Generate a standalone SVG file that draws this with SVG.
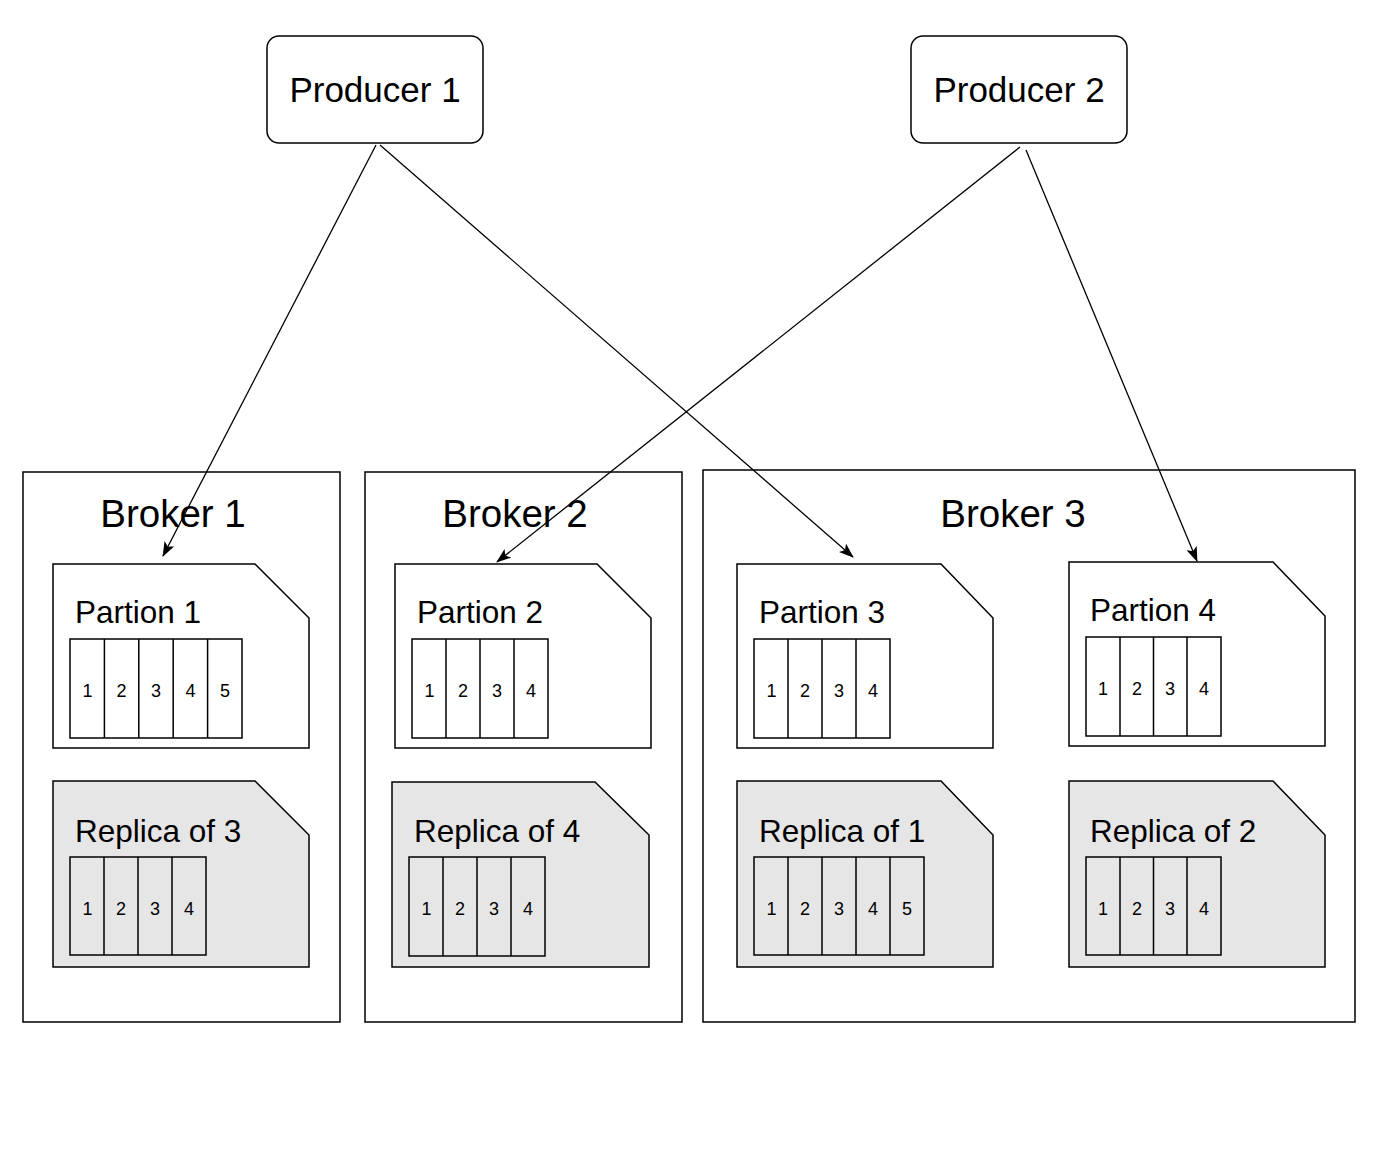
<svg xmlns="http://www.w3.org/2000/svg" width="1382" height="1172" viewBox="0 0 1382 1172">
<style>
text{font-family:"Liberation Sans",Arial,sans-serif;fill:#000}
.box{fill:#fff;stroke:#000;stroke-width:1.5}
.prod{fill:#fff;stroke:#000;stroke-width:1.5}
.part{fill:#fff;stroke:#000;stroke-width:1.5}
.rep{fill:#e6e6e6;stroke:#000;stroke-width:1.5}
.cell{fill:none;stroke:#000;stroke-width:1.5}
.ptxt{font-size:35px;text-anchor:middle}
.btxt{font-size:38.5px;text-anchor:middle}
.ltxt{font-size:31.5px}
.ctxt{font-size:18px;text-anchor:middle}
.conn{fill:none;stroke:#000;stroke-width:1.3}
</style>
<defs>
<marker id="arr" viewBox="0 0 15 11" refX="14" refY="5.5" markerWidth="15" markerHeight="11" markerUnits="userSpaceOnUse" orient="auto">
<path d="M0,0 L15,5.5 L0,11 L3.5,5.5 z" fill="#000"/>
</marker>
</defs>
<rect width="1382" height="1172" fill="#fff"/>

<g id="broker1">
<rect class="box" x="23" y="472" width="317" height="550"/>
<text class="btxt" x="173" y="527">Broker 1</text>
</g>
<g id="broker2">
<rect class="box" x="365" y="472" width="317" height="550"/>
<text class="btxt" x="515" y="527">Broker 2</text>
</g>
<g id="broker3">
<rect class="box" x="703" y="470" width="652" height="552"/>
<text class="btxt" x="1013" y="527">Broker 3</text>
</g>

<g id="partition1">
<path class="part" d="M53,564 H255 L309,618 V748 H53 Z"/>
<text class="ltxt" x="75" y="623">Partion 1</text>
<g class="cells">
<rect class="cell" x="70" y="639" width="172" height="99"/>
<path class="cell" d="M104.4,639V738M138.8,639V738M173.2,639V738M207.6,639V738"/>
<text class="ctxt" x="87.5" y="697">1</text><text class="ctxt" x="121.5" y="697">2</text><text class="ctxt" x="156" y="697">3</text><text class="ctxt" x="190.5" y="697">4</text><text class="ctxt" x="225" y="697">5</text>
</g>
</g>
<g id="replica3">
<path class="rep" d="M53,781 H255 L309,835 V967 H53 Z"/>
<text class="ltxt" x="75" y="842">Replica of 3</text>
<rect class="cell" x="70" y="857" width="136" height="98"/>
<path class="cell" d="M104,857V955M138,857V955M172,857V955"/>
<text class="ctxt" x="87.5" y="915">1</text><text class="ctxt" x="121" y="915">2</text><text class="ctxt" x="155" y="915">3</text><text class="ctxt" x="189" y="915">4</text>
</g>

<g id="partition2">
<path class="part" d="M395,564 H597 L651,618 V748 H395 Z"/>
<text class="ltxt" x="417" y="623">Partion 2</text>
<rect class="cell" x="412" y="639" width="136" height="99"/>
<path class="cell" d="M446,639V738M480,639V738M514,639V738"/>
<text class="ctxt" x="429.5" y="697">1</text><text class="ctxt" x="463" y="697">2</text><text class="ctxt" x="497" y="697">3</text><text class="ctxt" x="531" y="697">4</text>
</g>
<g id="replica4">
<path class="rep" d="M392,782 H595 L649,835 V967 H392 Z"/>
<text class="ltxt" x="414" y="842">Replica of 4</text>
<rect class="cell" x="409" y="857" width="136" height="99"/>
<path class="cell" d="M443,857V956M477,857V956M511,857V956"/>
<text class="ctxt" x="426.5" y="915">1</text><text class="ctxt" x="460" y="915">2</text><text class="ctxt" x="494" y="915">3</text><text class="ctxt" x="528" y="915">4</text>
</g>

<g id="partition3">
<path class="part" d="M737,564 H941 L993,618 V748 H737 Z"/>
<text class="ltxt" x="759" y="623">Partion 3</text>
<rect class="cell" x="754" y="639" width="136" height="99"/>
<path class="cell" d="M788,639V738M822,639V738M856,639V738"/>
<text class="ctxt" x="771.5" y="697">1</text><text class="ctxt" x="805" y="697">2</text><text class="ctxt" x="839" y="697">3</text><text class="ctxt" x="873" y="697">4</text>
</g>
<g id="partition4">
<path class="part" d="M1069,562 H1273 L1325,616 V746 H1069 Z"/>
<text class="ltxt" x="1090" y="621">Partion 4</text>
<rect class="cell" x="1086" y="637" width="135" height="99"/>
<path class="cell" d="M1120,637V736M1153.5,637V736M1187,637V736"/>
<text class="ctxt" x="1103" y="695">1</text><text class="ctxt" x="1137" y="695">2</text><text class="ctxt" x="1170" y="695">3</text><text class="ctxt" x="1204" y="695">4</text>
</g>
<g id="replica1">
<path class="rep" d="M737,781 H941 L993,835 V967 H737 Z"/>
<text class="ltxt" x="759" y="842">Replica of 1</text>
<rect class="cell" x="754" y="857" width="170" height="98"/>
<path class="cell" d="M788,857V955M822,857V955M856,857V955M890,857V955"/>
<text class="ctxt" x="771.5" y="915">1</text><text class="ctxt" x="805" y="915">2</text><text class="ctxt" x="839" y="915">3</text><text class="ctxt" x="873" y="915">4</text><text class="ctxt" x="907" y="915">5</text>
</g>
<g id="replica2">
<path class="rep" d="M1069,781 H1273 L1325,835 V967 H1069 Z"/>
<text class="ltxt" x="1090" y="842">Replica of 2</text>
<rect class="cell" x="1086" y="857" width="135" height="98"/>
<path class="cell" d="M1120,857V955M1153.5,857V955M1187,857V955"/>
<text class="ctxt" x="1103" y="915">1</text><text class="ctxt" x="1137" y="915">2</text><text class="ctxt" x="1170" y="915">3</text><text class="ctxt" x="1204" y="915">4</text>
</g>

<g id="producer1">
<rect class="prod" x="267" y="36" width="216" height="107" rx="12"/>
<text class="ptxt" x="375" y="102">Producer 1</text>
</g>
<g id="producer2">
<rect class="prod" x="911" y="36" width="216" height="107" rx="12"/>
<text class="ptxt" x="1019" y="102">Producer 2</text>
</g>

<g id="connectors">
<path class="conn" d="M376,145 L163,556" marker-end="url(#arr)"/>
<path class="conn" d="M380,145 L853,557" marker-end="url(#arr)"/>
<path class="conn" d="M1020,147 L497,562" marker-end="url(#arr)"/>
<path class="conn" d="M1026,150 L1197,561" marker-end="url(#arr)"/>
</g>
</svg>
